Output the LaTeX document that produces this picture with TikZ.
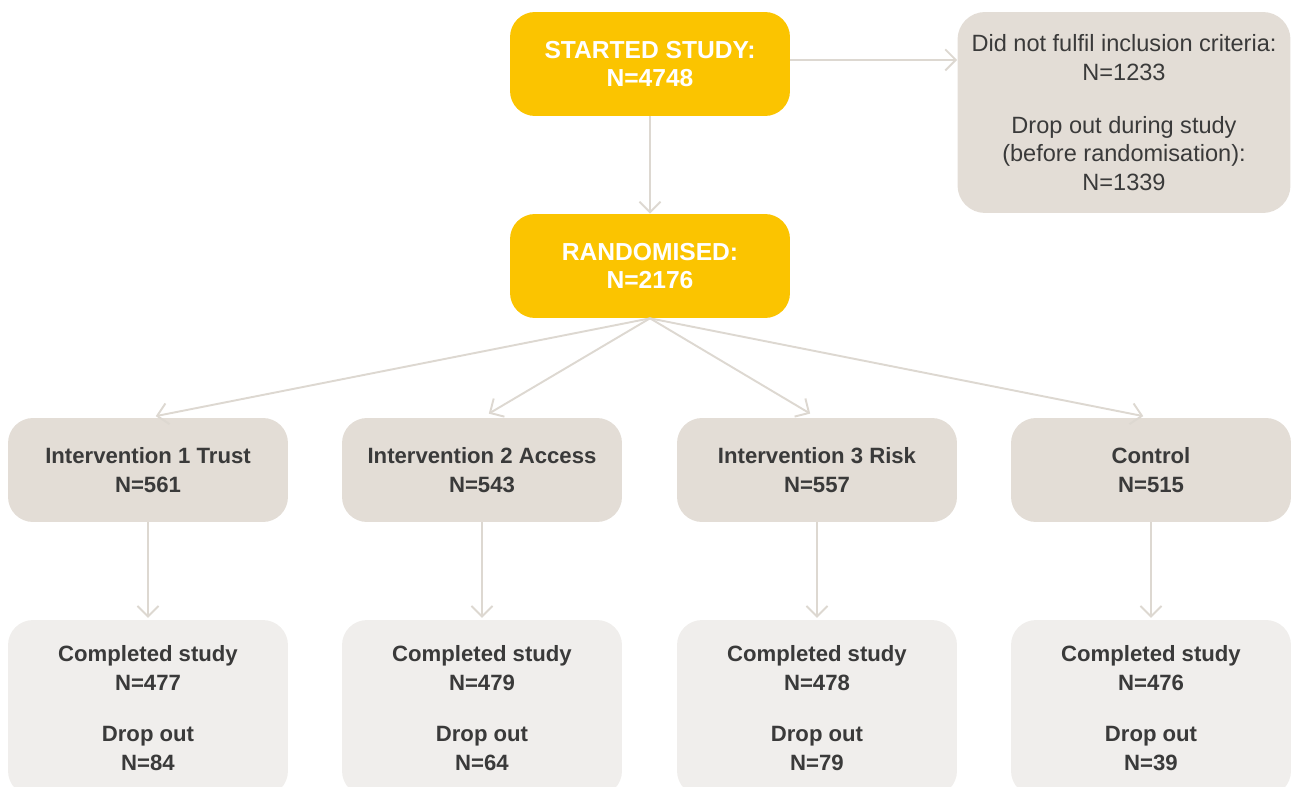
\documentclass[tikz,border=0pt]{standalone}
\usepackage{fontspec}
\setmainfont{Liberation Sans}
\usetikzlibrary{arrows.meta}

\definecolor{gold}{HTML}{FBC400}
\definecolor{sand}{HTML}{E3DDD6}
\definecolor{mist}{HTML}{F0EEEC}
\definecolor{link}{HTML}{DDD8D1}
\definecolor{ink}{HTML}{3A3A3A}

\tikzset{
  keybox/.style={fill=gold, text=white, rounded corners=0.5cm, minimum width=5.6cm,
    minimum height=2.08cm, align=center, font=\fontsize{14}{16.4}\selectfont\bfseries},
  infobox/.style={fill=sand, text=ink, rounded corners=0.55cm, minimum width=6.66cm,
    minimum height=4.02cm, align=center, font=\fontsize{13.4}{16.2}\selectfont},
  armbox/.style={fill=sand, text=ink, rounded corners=0.5cm, minimum width=5.6cm,
    minimum height=2.08cm, align=center, font=\fontsize{12.6}{16.4}\selectfont\bfseries},
  endbox/.style={fill=mist, text=ink, rounded corners=0.5cm, minimum width=5.6cm,
    minimum height=3.52cm, align=center, font=\fontsize{12.6}{16.4}\selectfont\bfseries},
  flow/.style={draw=link, line width=1.1pt, -{Straight Barb[length=6pt,width=12pt]}}
}

\begin{document}
\begin{tikzpicture}[x=0.02cm, y=-0.02cm]
    % Page frame (bottom boxes run off the page)
    \clip (0,0) rectangle (1291,787);

    % Study entry and randomisation
    \node[keybox] (started) at (650,64) {STARTED STUDY:\\N=4748};
    \node[keybox] (random) at (650,266) {RANDOMISED:\\N=2176};
    \node[infobox] (excluded) at (1124,112.5)
        {Did not fulfil inclusion criteria:\\N=1233\\[14pt]Drop out during study\\(before randomisation):\\N=1339};

    \draw[flow] (started) -- (random);
    \draw[flow] ([yshift=2.3pt]started.east) -- ([yshift=2.3pt]started.east -| excluded.west);

    % The four arms and their outcomes
    \foreach \px/\lbl/\na/\nb/\nc [count=\i] in {
        148/Intervention 1 Trust/561/477/84,
        482/Intervention 2 Access/543/479/64,
        817/Intervention 3 Risk/557/478/79,
        1151/Control/515/476/39} {
        \node[armbox] (arm\i) at (\px,470) {\lbl\\N=\na};
        \node[endbox] (end\i) at (\px,708) {Completed study\\N=\nb\\[13pt]Drop out\\N=\nc};
        \draw[flow, shorten >=4.5pt] (random.south) -- (arm\i.north);
        \draw[flow, shorten >=1pt] (arm\i) -- (end\i);
    }
\end{tikzpicture}
\end{document}
